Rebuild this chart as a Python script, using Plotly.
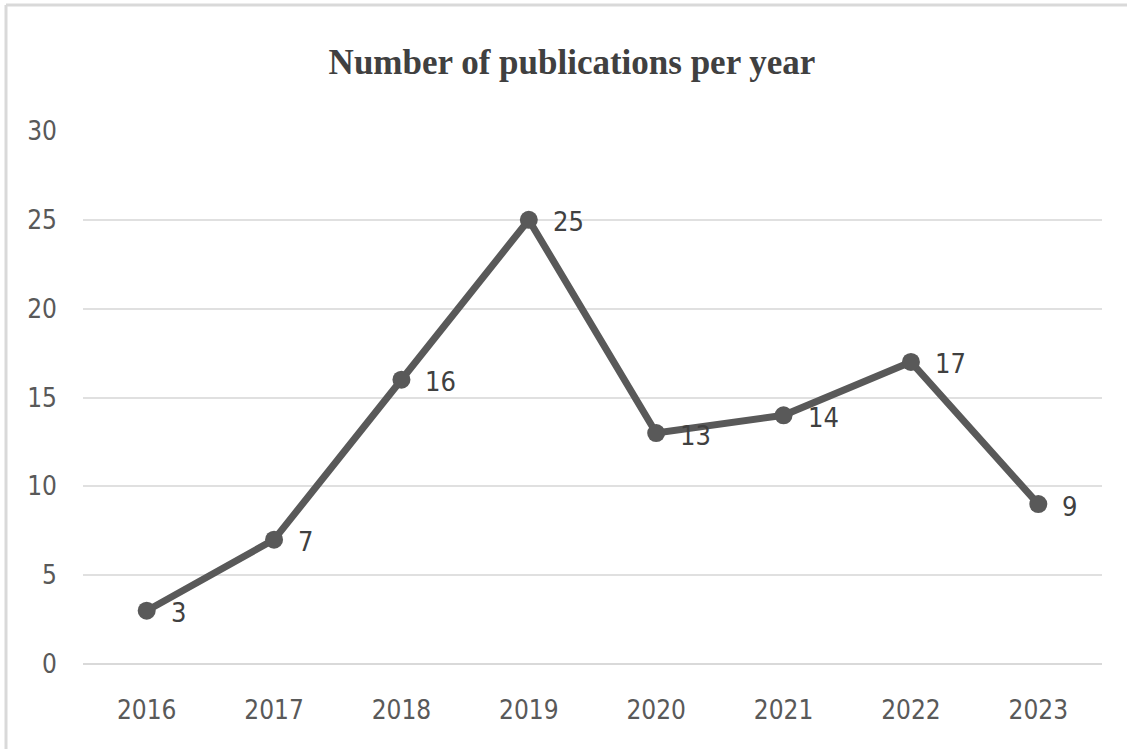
import plotly.graph_objects as go

years = ["2016", "2017", "2018", "2019", "2020", "2021", "2022", "2023"]
counts = [3, 7, 16, 25, 13, 14, 17, 9]
y_ticks = [0, 5, 10, 15, 20, 25, 30]

W, H = 1127, 749
ml, mr, mt, mb = 83, 25, 131, 85
pw, ph = W - ml - mr, H - mt - mb

def px_to_paper_x(px):
    return (px - ml) / pw

def px_to_paper_y(py):
    return (H - mb - py) / ph

SANS = "Liberation Sans Narrow, DejaVu Sans Condensed, sans-serif"

fig = go.Figure()
fig.add_trace(go.Scatter(
    x=years, y=counts,
    mode="lines+markers",
    line=dict(color="#595959", width=7),
    marker=dict(color="#595959", size=18),
    cliponaxis=False,
    showlegend=False,
))

for i, c in enumerate(counts):
    fig.add_annotation(
        x=i, y=c, xref="x", yref="y", text=str(c),
        showarrow=False, xanchor="left", yanchor="middle",
        xshift=22, yshift=-2,
        font=dict(family=SANS, size=27, color="#404040"),
    )

border_color = "#d9d9d9"
fig.update_layout(
    width=W, height=H,
    margin=dict(l=ml, r=mr, t=mt, b=mb),
    paper_bgcolor="white", plot_bgcolor="white",
    title=dict(
        text="<b>Number of publications per year</b>",
        x=572 / W, xref="container", y=1 - 62 / H, yanchor="middle", xanchor="center",
        font=dict(family="Liberation Serif, Times New Roman, serif", size=35, color="#404040"),
    ),
    xaxis=dict(
        type="category", range=[-0.5, 7.5],
        showgrid=False, showline=False, zeroline=False,
        ticks="", ticklabelstandoff=28,
        tickfont=dict(family=SANS, size=26, color="#595959"),
    ),
    yaxis=dict(
        range=[0, 30], tickvals=y_ticks,
        showgrid=True, gridcolor="#e0e0e0", gridwidth=2,
        zeroline=True, zerolinecolor="#d9d9d9", zerolinewidth=2,
        showline=False, ticks="", ticklabelstandoff=25,
        tickfont=dict(family=SANS, size=26, color="#595959"),
    ),
    shapes=[
        dict(type="line", xref="paper", yref="paper",
             x0=px_to_paper_x(6), x1=px_to_paper_x(1127),
             y0=px_to_paper_y(5), y1=px_to_paper_y(5),
             line=dict(color=border_color, width=3)),
        dict(type="line", xref="paper", yref="paper",
             x0=px_to_paper_x(6), x1=px_to_paper_x(6),
             y0=px_to_paper_y(5), y1=px_to_paper_y(749),
             line=dict(color=border_color, width=3)),
    ],
)

fig.write_html("out.html")
